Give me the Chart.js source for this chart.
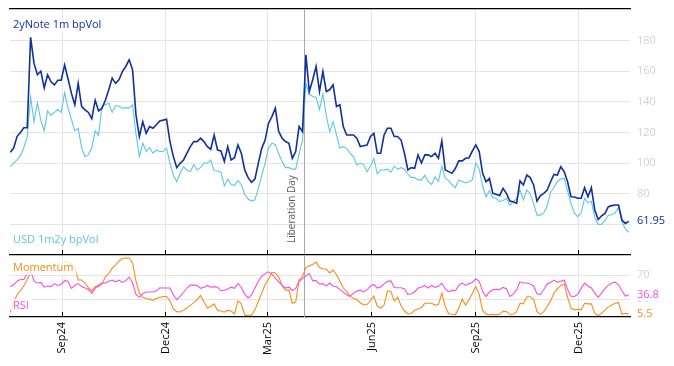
<!DOCTYPE html>
<html>
<head>
<meta charset="utf-8">
<script src="https://cdn.jsdelivr.net/npm/chart.js@4.4.1/dist/chart.umd.min.js"></script>
<style>
html, body { margin: 0; padding: 0; background: #fff; }
#wrap { position: relative; width: 674px; height: 366px; }
#main_plot { position: absolute; left: 0; top: 0; }
#sub_plot { position: absolute; left: 0; top: 250px; }
</style>
</head>
<body>
<div id="wrap">
  <canvas id="main_plot" width="674" height="255"></canvas>
  <canvas id="sub_plot" width="674" height="116"></canvas>
</div>
<script>
// one point every 3 calendar days, starting 2024-07-17
const startDate = '2024-07-17';
const stepDays = 3;

const note2y = [
  107, 109.6, 117.3, 120, 123, 123, 182, 165, 157.6, 160, 149, 157.6, 153, 151, 154, 154, 164, 155, 145.6, 138,
  152, 137, 134.7, 133, 129, 141, 134, 135.8, 141, 147.8, 155.4, 152, 154.3, 159.7, 163, 167.4, 160.8, 131.4, 117.3, 127,
  119.4, 123.8, 122.7, 125, 127.5, 128, 128.6, 114, 104.2, 97, 99.8, 102, 106.4, 110.7, 114, 114, 116.2, 114, 110.7, 109,
  118.3, 108.5, 107.9, 101, 110.7, 102, 103.5, 111.8, 106.4, 95.5, 90.5, 87.4, 89.6, 99.8, 109.6, 115, 126, 130.3, 135.8, 120.5,
  116.2, 114, 112.9, 103.1, 107.5, 123.8, 120.5, 170.6, 146.7, 154.3, 163, 146.7, 159.7, 146.7, 147.8, 151, 136.9, 138, 123.8, 118.3,
  118.3, 118.3, 116.2, 110.7, 111.3, 111.8, 117.3, 119.4, 106.4, 106.4, 118.3, 122.7, 122.7, 117.3, 117.3, 115, 106.4, 95.5, 97, 96.6,
  105.3, 100, 105.3, 105.3, 104.2, 106.4, 103.1, 114.4, 95.5, 94.4, 93.3, 96.6, 101.4, 101.4, 103.1, 103.5, 107.9, 111.8, 107.5, 93.3,
  87.8, 90, 80.2, 79.6, 78.7, 83.5, 80.2, 75.2, 74.8, 73.7, 88.3, 85.7, 92.2, 90.5, 85.7, 75.2, 78.7, 80.2, 82.4, 87.8,
  92.6, 92.2, 97.6, 94.4, 87.8, 78, 77.8, 77, 77, 83.9, 78, 83.9, 69.3, 63.2, 65.6, 67.1, 71.5, 72.2, 72.6, 72.6,
  62.8, 60.6, 61.95
];

const usd1m2y = [
  97.6, 100, 102, 105, 110, 117, 143, 127, 139, 128, 121, 134, 131, 133, 135, 133, 146, 136, 128.5, 121,
  122.7, 110, 104.2, 105.5, 110, 121, 118, 137, 138, 139, 133, 137.5, 137, 135.8, 136, 136, 138, 119, 104.2, 113,
  107.5, 110, 106.4, 108.5, 107.5, 107.5, 109.6, 100, 92, 87.8, 93.5, 97.6, 95.5, 94.4, 99, 95.5, 97, 100, 100, 102,
  95, 94.8, 94, 85, 89.5, 86, 85.5, 88.5, 86, 79.5, 76.5, 75.2, 76, 83.5, 92, 99.8, 110, 113, 112, 106,
  101, 97, 97, 96, 96, 106, 115, 152, 145, 143.4, 143, 135, 145, 131, 120.5, 127, 118.5, 109.6, 110.7, 109.6,
  106.4, 104, 98.7, 100, 99, 94.4, 98, 103, 93, 95.5, 95.5, 96, 94, 98, 96, 97, 96, 93, 90.5, 90.5,
  89, 89, 92, 88, 86, 91, 88, 98, 90, 88.5, 86, 84, 89, 88, 87, 87.8, 89, 100, 96, 85,
  78, 82, 77.5, 77, 74.8, 75.5, 77, 72.6, 74.8, 76.5, 82.4, 76, 82.4, 80, 73.5, 66, 66, 67.5, 72, 81,
  84, 88, 89.5, 90, 82, 73.5, 67.5, 65, 67.5, 77, 74, 75, 64.5, 60, 60, 62.5, 66, 66.3, 67.5, 71,
  61.5, 57, 54.7
];

const momentum = [
  8, 25, 37, 44, 52, 63, 75, 80, 84, 86, 85, 83, 86, 88, 87, 90, 92, 93, 89, 83,
  62, 62, 57, 49, 44, 51, 51, 55, 68, 73, 82, 87, 94, 98, 99, 98.5, 91, 60, 40, 33,
  31, 30, 28, 31, 32.8, 34.5, 34.5, 27, 13.6, 9, 8.5, 11.5, 15, 19.5, 24, 29, 36, 25, 15, 18,
  22, 11, 10, 8, 11, 10, 5, 27, 22, 3.5, 2.3, 3.4, 12, 26, 40, 54, 63, 75, 74, 67,
  53, 45, 45, 23, 25, 62, 68, 83, 86, 88, 92, 83, 81, 80, 74, 79, 71, 60, 48.6, 43,
  34.5, 31.6, 28.8, 24, 20.3, 21, 28, 35, 18, 14.7, 20, 44, 43, 27, 33, 19, 10, 5, 6, 11.5,
  13.6, 16, 23, 23, 23, 20, 21, 40, 18, 5.5, 4.5, 4, 15, 30, 20, 29, 40, 51, 38, 11,
  5, 3.5, 4.5, 3.5, 4.5, 10, 9, 4.5, 4.5, 9, 23, 22, 34, 34, 30, 9, 4.5, 9, 17.5, 27,
  40, 47, 53, 55.5, 33, 15, 12, 13, 12, 23, 22, 22, 6, 2.5, 6, 12, 17, 20, 23, 24,
  5, 6, 5.5
];

const rsi = [
  51, 54, 60, 62.7, 63, 73, 78, 60, 57, 58, 50, 52, 51, 56, 53, 55, 61, 60, 48, 53,
  56, 51, 48.6, 45.8, 40, 48, 54, 57, 57, 60, 62, 59, 62, 58, 61, 67, 57, 38, 33, 39,
  42, 42, 42, 43.5, 49, 48.6, 48.6, 48.6, 37, 29, 34.5, 41.5, 48.6, 53.5, 53.5, 53, 48, 50, 53, 50,
  51, 50, 44, 45, 47, 50, 48, 56, 50, 38, 32, 37, 48.6, 60, 68.4, 72.3, 75.7, 72, 65, 59,
  53, 48.6, 50, 44.5, 48, 60, 64, 69, 73, 61, 61, 55, 56, 52, 57, 51.7, 51, 46, 41.8, 37.3,
  34.5, 40, 43.5, 45, 42, 45.5, 52, 54.5, 48.6, 50.5, 55.5, 60, 60.5, 49.5, 49, 49, 47, 38, 39, 42,
  48.6, 50, 53, 48.6, 53, 49.7, 51.4, 57, 47, 42, 45, 44, 53, 57, 53, 56, 58, 64, 60, 43,
  34.5, 42, 45.5, 46.5, 46, 49.7, 47.5, 34.5, 38.4, 45.8, 59, 57, 57, 55.4, 52, 39, 37.5, 46, 55.5, 58,
  62, 58.5, 60, 62, 46, 35, 34.5, 38, 48, 57, 52, 48.6, 40, 33, 40, 47.5, 53, 57, 58.5, 54,
  44, 35, 36.8
];

const tickDates = ['2024-09-01', '2024-12-01', '2025-03-01', '2025-06-01', '2025-09-01', '2025-12-01'];
const tickLabels = ['Sep24', 'Dec24', 'Mar25', 'Jun25', 'Sep25', 'Dec25'];
const eventDate = '2025-04-02';
const eventLabel = 'Liberation Day';
const topYTicks = [60, 80, 100, 120, 140, 160, 180];
const subYTicks = [30, 70];

const FONT = '"Open Sans", "Noto Sans", sans-serif';
const GRID = '#e4e4e4';
const C_NOTE = '#10319c', C_USD = '#5cc6e4', C_MOM = '#fa8c16', C_RSI = '#f54fe0';

const DAY = 86400000;
const toDay = s => Date.parse(s) / DAY;
const day0 = toDay(startDate);
const tickDays = tickDates.map(toDay);
const eventDay = toDay(eventDate);
const xMin = tickDays[0] - 46.2;
const xMax = tickDays[0] + 501.1;
const pts = arr => arr.map((v, i) => ({ x: day0 + i * stepDays, y: v }));

function xScale(extra) {
    return Object.assign({
        type: 'linear',
        axis: 'x',
        min: xMin,
        max: xMax,
        afterBuildTicks: s => { s.ticks = tickDays.map(v => ({ value: v })); }
    }, extra);
}

// right value axis: fixed width, no extra label padding pushing the plot area
function yFit(s) {
    s.width = 44;
    s.paddingTop = 0;
    s.paddingBottom = 0;
}

// vertical event line (+ rotated caption on the main panel)
const eventLine = {
    id: 'eventLine',
    beforeDatasetsDraw(chart, args, opts) {
        const { ctx, chartArea: a, scales: { x } } = chart;
        const px = Math.round(x.getPixelForValue(eventDay)) + 0.5;
        ctx.save();
        ctx.strokeStyle = '#a8a8a8';
        ctx.lineWidth = 1;
        ctx.beginPath();
        ctx.moveTo(px, a.top);
        ctx.lineTo(px, a.bottom);
        ctx.stroke();
        if (opts.text) {
            ctx.translate(px - 12, a.bottom - 12);
            ctx.rotate(-Math.PI / 2);
            ctx.font = '10px ' + FONT;
            ctx.fillStyle = '#5a5a5a';
            ctx.textAlign = 'left';
            ctx.textBaseline = 'middle';
            ctx.fillText(opts.text, 0, 0);
        }
        ctx.restore();
    }
};

// series names inside the panel + last value tags on the right axis
const panelText = {
    id: 'panelText',
    afterDraw(chart, args, opts) {
        const { ctx, chartArea: a } = chart;
        ctx.save();
        ctx.font = '11px ' + FONT;
        ctx.textBaseline = 'middle';
        ctx.textAlign = 'left';
        (opts.items || []).forEach(it => {
            const y = it.fromTop ? a.top + it.dy : a.bottom - it.dy;
            const w = ctx.measureText(it.text).width;
            ctx.fillStyle = 'rgba(255,255,255,0.8)';
            ctx.fillRect(a.left + 1, y - 7, w + 5, 14);
            ctx.fillStyle = it.color;
            ctx.fillText(it.text, a.left + 3, y);
        });
        chart.data.datasets.filter(ds => ds.lastTag).forEach(ds => {
            const last = ds.data[ds.data.length - 1].y;
            const py = chart.scales.y.getPixelForValue(last);
            const txt = String(last);
            const w = ctx.measureText(txt).width;
            ctx.fillStyle = '#fff';
            ctx.fillRect(a.right + 5, py - 6, w + 4, 12);
            ctx.fillStyle = ds.borderColor;
            ctx.fillText(txt, a.right + 7, py);
        });
        ctx.restore();
    }
};

const common = {
    responsive: false,
    animation: false,
    elements: { point: { radius: 0 }, line: { tension: 0 } }
};

const ctxMain = new Chart(document.getElementById('main_plot').getContext('2d'), {
    type: 'line',
    data: {
        datasets: [{
            label: '2yNote 1m bpVol',
            data: pts(note2y),
            borderColor: C_NOTE,
            borderWidth: 1.6,
            lastTag: true
        }, {
            label: 'USD 1m2y bpVol',
            data: pts(usd1m2y),
            borderColor: C_USD,
            borderWidth: 1.1
        }]
    },
    options: Object.assign({}, common, {
        layout: { padding: { left: 10, right: 0, top: 9, bottom: 0 } },
        plugins: {
            legend: { display: false },
            tooltip: { enabled: false },
            eventLine: { text: eventLabel },
            panelText: {
                items: [
                    { text: '2yNote 1m bpVol', color: C_NOTE, fromTop: true, dy: 16 },
                    { text: 'USD 1m2y bpVol', color: C_USD, fromTop: false, dy: 15 }
                ]
            }
        },
        scales: {
            x: xScale({
                position: 'bottom',
                afterFit: s => { s.height = 0; },
                ticks: { display: false },
                grid: { color: GRID, drawTicks: false },
                border: { display: false }
            }),
            xTop: xScale({
                position: 'top',
                afterFit: s => { s.height = 0; },
                ticks: { display: false },
                grid: { drawOnChartArea: false, drawTicks: false },
                border: { display: true, color: '#000', width: 1.2 }
            }),
            y: {
                position: 'right',
                min: 40,
                max: 200.5,
                afterBuildTicks: s => { s.ticks = topYTicks.map(v => ({ value: v })); },
                afterFit: yFit,
                ticks: { color: '#d2d2d2', font: { family: FONT, size: 11 }, padding: 7 },
                grid: { color: GRID, drawTicks: false },
                border: { display: false }
            }
        }
    }),
    plugins: [eventLine, panelText]
});

const ctxSub = new Chart(document.getElementById('sub_plot').getContext('2d'), {
    type: 'line',
    data: {
        datasets: [{
            label: 'RSI',
            data: pts(rsi),
            borderColor: C_RSI,
            borderWidth: 1.1,
            lastTag: true
        }, {
            label: 'Momentum',
            data: pts(momentum),
            borderColor: C_MOM,
            borderWidth: 1.1,
            lastTag: true
        }]
    },
    options: Object.assign({}, common, {
        layout: { padding: { left: 10, right: 0, top: 0, bottom: 0 } },
        plugins: {
            legend: { display: false },
            tooltip: { enabled: false },
            eventLine: {},
            panelText: {
                items: [
                    { text: 'Momentum', color: C_MOM, fromTop: true, dy: 13 },
                    { text: 'RSI', color: C_RSI, fromTop: false, dy: 11 }
                ]
            }
        },
        scales: {
            x: xScale({
                position: 'bottom',
                afterFit: s => { s.height = 49; },
                ticks: {
                    color: '#000',
                    font: { family: FONT, size: 11 },
                    minRotation: 90,
                    maxRotation: 90,
                    autoSkip: false,
                    padding: 10,
                    callback: (v, i) => tickLabels[i]
                },
                grid: { color: GRID, tickLength: -5, tickColor: '#000' },
                border: { display: true, color: '#000', width: 1.2 }
            }),
            xTop: xScale({
                position: 'top',
                afterFit: s => { s.height = 5; },
                ticks: { display: false },
                grid: { drawOnChartArea: false, drawTicks: true, tickLength: 5, tickColor: '#000' },
                border: { display: true, color: '#000', width: 1.2 }
            }),
            y: {
                position: 'right',
                min: 0,
                max: 104,
                afterBuildTicks: s => { s.ticks = subYTicks.map(v => ({ value: v })); },
                afterFit: yFit,
                ticks: { color: '#d2d2d2', font: { family: FONT, size: 11 }, padding: 7 },
                grid: { color: GRID, drawTicks: false },
                border: { display: false }
            }
        }
    }),
    plugins: [eventLine, panelText]
});
</script>
</body>
</html>
